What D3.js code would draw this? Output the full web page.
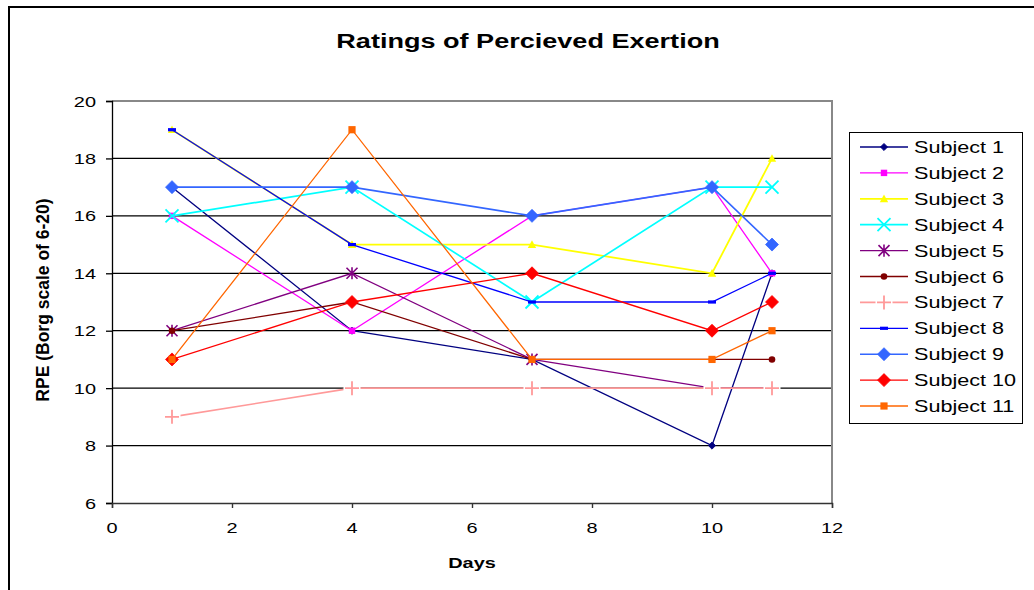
<!DOCTYPE html>
<html>
<head>
<meta charset="utf-8">
<script src="https://cdn.jsdelivr.net/npm/d3@7"></script>
<style>
  html, body { margin: 0; padding: 0; background: #fff; }
  svg { display: block; font-family: "Liberation Sans", Arial, sans-serif; }
</style>
</head>
<body>
<svg id="chart" width="1034" height="590"></svg>
<script>
// Days on which RPE was recorded
const days = [1, 4, 7, 10, 11];

// RPE values per subject (Borg scale 6-20)
const subject1  = [17, 12, 11, 8, 14];
const subject2  = [16, 12, 16, 17, 14];
const subject3  = [19, 15, 15, 14, 18];
const subject4  = [16, 17, 13, 17, 17];
const subject5  = [12, 14, 11, 10, 10];
const subject6  = [12, 13, 11, 11, 11];
const subject7  = [9, 10, 10, 10, 10];
const subject8  = [19, 15, 13, 13, 14];
const subject9  = [17, 17, 16, 17, 15];
const subject10 = [11, 13, 14, 12, 13];
const subject11 = [11, 19, 11, 11, 12];

const seriesNames = ["Subject 1", "Subject 2", "Subject 3", "Subject 4", "Subject 5", "Subject 6",
                     "Subject 7", "Subject 8", "Subject 9", "Subject 10", "Subject 11"];
const seriesValues = [subject1, subject2, subject3, subject4, subject5, subject6,
                      subject7, subject8, subject9, subject10, subject11];

const xTicks = [0, 2, 4, 6, 8, 10, 12];
const yTicks = [6, 8, 10, 12, 14, 16, 18, 20];

// Look of each series: colour, marker shape, line weight
const styles = [
  { color: "#000080", marker: "diamond", size: 3.6, width: 1.3 },
  { color: "#FF00FF", marker: "square",  size: 3.2, width: 1.3 },
  { color: "#FFFF00", marker: "triangle",size: 4.2, width: 1.8 },
  { color: "#00FFFF", marker: "x",       size: 6.5, width: 1.7 },
  { color: "#800080", marker: "star",    size: 5.5, width: 1.3 },
  { color: "#800000", marker: "circle",  size: 3.3, width: 1.3 },
  { color: "#FF9999", marker: "plus",    size: 7,   width: 1.6, boxed: true },
  { color: "#0000FF", marker: "dash",    size: 4,   width: 1.3 },
  { color: "#3366FF", marker: "diamond", size: 6.5, width: 1.6 },
  { color: "#FF0000", marker: "diamond", size: 6.5, width: 1.3 },
  { color: "#FF6600", marker: "square",  size: 3.6, width: 1.3 }
];

const SX = 1.33; // horizontal glyph stretch used for all horizontal text

const svg = d3.select("#chart");

// Outer chart frame
svg.append("rect")
  .attr("x", 9).attr("y", 7).attr("width", 1060).attr("height", 620)
  .attr("fill", "#fff").attr("stroke", "#000").attr("stroke-width", 2);

const plot = { left: 112, right: 832, top: 101, bottom: 503 };

const x = d3.scaleLinear().domain([0, 12]).range([plot.left, plot.right]);
const y = d3.scaleLinear().domain([6, 20]).range([plot.bottom, plot.top]);

function stretchedText(parent, tx, ty, str, opts) {
  return parent.append("text")
    .attr("transform", `translate(${tx},${ty}) scale(${opts.sx ?? SX},1)`)
    .attr("font-size", opts.size)
    .attr("font-weight", opts.bold ? "bold" : "normal")
    .attr("text-anchor", opts.anchor || "start")
    .attr("fill", "#000")
    .text(str);
}

// Gridlines
svg.append("g")
  .selectAll("line")
  .data(yTicks.filter(v => v > 6 && v < 20))
  .join("line")
  .attr("x1", plot.left).attr("x2", plot.right)
  .attr("y1", d => y(d)).attr("y2", d => y(d))
  .attr("stroke", "#000").attr("stroke-width", 1.2);

// Plot area border (top and right)
svg.append("path")
  .attr("d", `M${plot.left},${y(20)}H${plot.right}V${plot.bottom}`)
  .attr("fill", "none").attr("stroke", "#888").attr("stroke-width", 2);

// Axes
const yAxis = d3.axisLeft(y).tickValues(yTicks).tickSize(6).tickFormat("");
const xAxis = d3.axisBottom(x).tickValues(xTicks).tickSize(5).tickFormat("");
svg.append("g").attr("transform", `translate(${plot.left},0)`).call(yAxis)
  .call(g => g.selectAll("path,line").attr("stroke", "#000").attr("stroke-width", 1.3));
svg.append("g").attr("transform", `translate(0,${plot.bottom})`).call(xAxis)
  .call(g => g.selectAll("path,line").attr("stroke", "#333").attr("stroke-width", 1.4));

// Tick labels
yTicks.forEach(v => stretchedText(svg, 96, y(v) + 5.5, String(v), { size: 15, anchor: "end" }));
xTicks.forEach(v => stretchedText(svg, x(v), 533, String(v), { size: 15, anchor: "middle" }));

// Titles
stretchedText(svg, 528, 48, "Ratings of Percieved Exertion", { size: 20.5, bold: true, anchor: "middle", sx: 1.32 });
stretchedText(svg, 472, 568, "Days", { size: 15, bold: true, anchor: "middle" });
svg.append("text")
  .attr("transform", `translate(49,300) rotate(-90)`)
  .attr("font-size", 17.5).attr("font-weight", "bold")
  .attr("text-anchor", "middle").text("RPE (Borg scale of 6-20)");

// Marker drawing
function drawMarker(g, cx, cy, st) {
  const s = st.size, c = st.color;
  if (st.boxed) {
    // marker with an opaque white background box
    g.append("rect").attr("x", cx - s - 1.5).attr("y", cy - s - 1.5)
      .attr("width", 2 * s + 3).attr("height", 2 * s + 3).attr("fill", "#fff");
  }
  switch (st.marker) {
    case "diamond":
      g.append("path").attr("d", `M${cx},${cy - s}L${cx + s},${cy}L${cx},${cy + s}L${cx - s},${cy}Z`)
        .attr("fill", c).attr("stroke", c).attr("stroke-width", 0.8);
      break;
    case "square":
      g.append("rect").attr("x", cx - s).attr("y", cy - s).attr("width", 2 * s).attr("height", 2 * s)
        .attr("fill", c);
      break;
    case "triangle":
      g.append("path").attr("d", `M${cx},${cy - s}L${cx + s},${cy + s * 0.8}L${cx - s},${cy + s * 0.8}Z`)
        .attr("fill", c);
      break;
    case "x":
      g.append("path").attr("d", `M${cx - s},${cy - s}L${cx + s},${cy + s}M${cx - s},${cy + s}L${cx + s},${cy - s}`)
        .attr("stroke", c).attr("stroke-width", 1.8).attr("fill", "none");
      break;
    case "star":
      g.append("path").attr("d",
        `M${cx - s},${cy - s}L${cx + s},${cy + s}M${cx - s},${cy + s}L${cx + s},${cy - s}M${cx},${cy - s * 1.1}V${cy + s * 1.1}`)
        .attr("stroke", c).attr("stroke-width", 1.6).attr("fill", "none");
      break;
    case "circle":
      g.append("circle").attr("cx", cx).attr("cy", cy).attr("r", s).attr("fill", c);
      break;
    case "plus":
      g.append("path").attr("d", `M${cx - s},${cy}H${cx + s}M${cx},${cy - s}V${cy + s}`)
        .attr("stroke", c).attr("stroke-width", 1.8).attr("fill", "none");
      break;
    case "dash":
      g.append("rect").attr("x", cx - s).attr("y", cy - 1.6).attr("width", 2 * s).attr("height", 3.2)
        .attr("fill", c);
      break;
  }
}

const line = d3.line().x(d => x(d[0])).y(d => y(d[1]));

// Series: each one draws its line then its markers
seriesValues.forEach((vals, i) => {
  const st = styles[i];
  const pts = days.map((d, j) => [d, vals[j]]);
  const g = svg.append("g").attr("class", "series");
  g.append("path").attr("d", line(pts))
    .attr("fill", "none").attr("stroke", st.color).attr("stroke-width", st.width);
  pts.forEach(p => drawMarker(g, x(p[0]), y(p[1]), st));
});

// Legend
const legend = svg.append("g");
legend.append("rect")
  .attr("x", 849.5).attr("y", 132.5).attr("width", 173).attr("height", 291)
  .attr("fill", "#fff").attr("stroke", "#000").attr("stroke-width", 1);
seriesNames.forEach((name, i) => {
  const st = styles[i];
  const ly = 147 + i * 25.9;
  const lg = legend.append("g");
  lg.append("line").attr("x1", 860).attr("x2", 908).attr("y1", ly).attr("y2", ly)
    .attr("stroke", st.color).attr("stroke-width", st.width);
  drawMarker(lg, 884, ly, st);
  stretchedText(legend, 914, ly + 6, name, { size: 17, sx: 1.27 });
});
</script>
</body>
</html>
